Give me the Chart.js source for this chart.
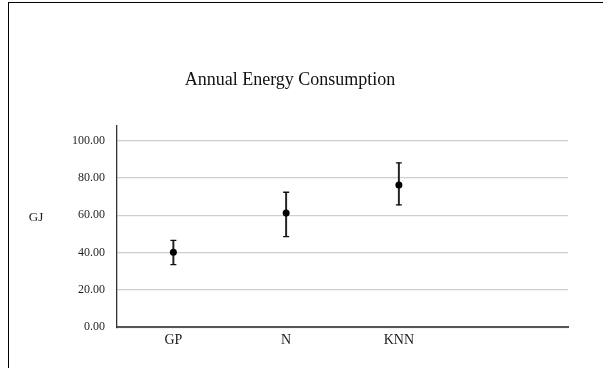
<!DOCTYPE html>
<html>
<head>
<meta charset="utf-8">
<script src="https://cdn.jsdelivr.net/npm/chart.js@4.4.0/dist/chart.umd.min.js"></script>
<style>
  body { margin: 0; background: #fff; }
  #frame { position: absolute; left: 8px; top: 2px; width: 600px; height: 370px; border-top: 1px solid #000; border-left: 1px solid #000; }
  #wrap { position: absolute; left: 12px; top: 0; width: 591px; height: 368px; }
</style>
</head>
<body>
<div id="frame"></div>
<div id="wrap"><canvas id="energyChart"></canvas></div>
<script>
// Dados do gráfico
const categories = ['GP', 'N', 'KNN', ''];
const means = [40.2, 61.2, 76.2, null];
const upper = [46.5, 72.3, 88.0, null];
const lower = [33.5, 48.5, 65.5, null];
const yTicks = [0, 20, 40, 60, 80, 100];

const serif = '"Liberation Serif", "Times New Roman", serif';

// Rótulo "GJ" na horizontal, à esquerda do eixo
const gjLabel = {
    id: 'gjLabel',
    afterDraw(chart) {
        const ctx = chart.ctx;
        const y = chart.scales.y.getPixelForValue(60);
        ctx.save();
        ctx.font = '13px ' + serif;
        ctx.fillStyle = '#1a1a1a';
        ctx.textAlign = 'center';
        ctx.textBaseline = 'middle';
        ctx.fillText('GJ', 24, y + 2);
        ctx.restore();
    }
};

const ctx = document.getElementById('energyChart').getContext('2d');
new Chart(ctx, {
    type: 'bar',
    data: {
        labels: categories,
        datasets: [
            {
                type: 'line',
                label: 'Média',
                data: means,
                showLine: false,
                pointStyle: 'circle',
                pointRadius: 3.5,
                pointBackgroundColor: '#000',
                pointBorderColor: '#000',
                pointBorderWidth: 0
            },
            {
                type: 'line',
                label: 'Superior',
                data: upper,
                showLine: false,
                pointStyle: 'line',
                pointRadius: 3,
                pointBorderColor: '#111',
                pointBorderWidth: 1.3
            },
            {
                type: 'line',
                label: 'Inferior',
                data: lower,
                showLine: false,
                pointStyle: 'line',
                pointRadius: 3,
                pointBorderColor: '#111',
                pointBorderWidth: 1.3
            },
            {
                label: 'Intervalo',
                data: categories.map((c, i) => upper[i] == null ? null : [lower[i], upper[i]]),
                backgroundColor: '#222',
                borderWidth: 0,
                barThickness: 1.3
            }
        ]
    },
    options: {
        responsive: true,
        maintainAspectRatio: false,
        animation: false,
        layout: { padding: { left: 0, right: 35, top: 0, bottom: 14 } },
        plugins: {
            legend: { display: false },
            tooltip: { enabled: false },
            title: {
                display: true,
                text: 'Annual Energy Consumption',
                color: '#111',
                font: { family: serif, size: 18, weight: 'normal' },
                padding: { top: 69, bottom: 35 }
            }
        },
        scales: {
            x: {
                offset: true,
                grid: { display: false, drawTicks: false },
                border: { display: true, color: '#555', width: 2 },
                ticks: { color: '#1a1a1a', padding: 5, font: { family: serif, size: 14 } }
            },
            y: {
                min: 0,
                max: 108,
                afterFit(scale) { scale.width = 105; },
                afterBuildTicks(scale) { scale.ticks = yTicks.map(v => ({ value: v })); },
                grid: { color: '#cfcfcf', lineWidth: 1.2, drawTicks: false },
                border: { display: true, color: '#333', width: 1.3 },
                ticks: {
                    color: '#1f1f1f',
                    padding: 12,
                    font: { family: serif, size: 12 },
                    callback: v => v.toFixed(2)
                }
            }
        }
    },
    plugins: [gjLabel]
});
</script>
</body>
</html>
